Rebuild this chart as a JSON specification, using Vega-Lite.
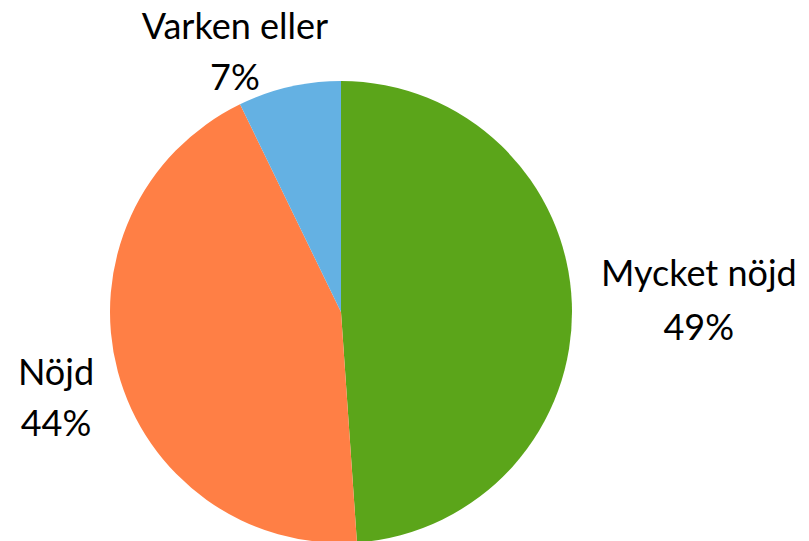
{
  "$schema": "https://vega.github.io/schema/vega-lite/v6.json",
  "autosize": "none",
  "width": 682,
  "height": 624,
  "padding": {"left": 0, "top": 0, "right": 127, "bottom": 0},
  "background": "white",
  "view": {"stroke": null},
  "data": {"values": [
    {"idx": 1, "category": "Mycket nöjd", "value": 48.9, "label": "Mycket nöjd\n49%"},
    {"idx": 2, "category": "Nöjd", "value": 43.9, "label": "Nöjd\n44%"},
    {"idx": 3, "category": "Varken eller", "value": 7.2, "label": "Varken eller\n7%"}
  ]},
  "encoding": {
    "theta": {"field": "value", "type": "quantitative", "stack": true},
    "order": {"field": "idx", "type": "quantitative"}
  },
  "layer": [
    {
      "mark": {"type": "arc", "outerRadius": 231, "stroke": "white", "strokeWidth": 0},
      "encoding": {
        "color": {"field": "category", "type": "nominal",
          "scale": {"domain": ["Mycket nöjd", "Nöjd", "Varken eller"], "range": ["#5BA51A", "#FF7F45", "#64B1E3"]},
          "legend": null}
      }
    },
    {
      "mark": {"type": "text", "radius": 358, "dy": -25, "lineBreak": "\n", "lineHeight": 54, "fontSize": 36, "font": "Lato", "color": "black", "align": "center", "baseline": "middle"},
      "encoding": {"text": {"condition": {"test": "datum.idx == 1", "field": "label"}, "value": ""}}
    },
    {
      "mark": {"type": "text", "radius": 295, "dy": -14, "lineBreak": "\n", "lineHeight": 51, "fontSize": 36, "font": "Lato", "color": "black", "align": "center", "baseline": "middle"},
      "encoding": {"text": {"condition": {"test": "datum.idx == 2", "field": "label"}, "value": ""}}
    },
    {
      "mark": {"type": "text", "radius": 268, "dx": -46, "dy": -23, "lineBreak": "\n", "lineHeight": 51, "fontSize": 36, "font": "Lato", "color": "black", "align": "center", "baseline": "middle"},
      "encoding": {"text": {"condition": {"test": "datum.idx == 3", "field": "label"}, "value": ""}}
    }
  ]
}
